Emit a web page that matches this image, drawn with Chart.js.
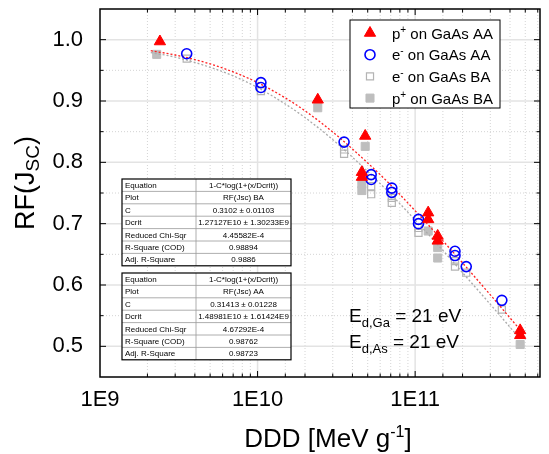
<!DOCTYPE html>
<html>
<head>
<meta charset="utf-8">
<title>RF(Jsc) vs DDD</title>
<style>body{margin:0;background:#fff}</style>
</head>
<body>
<canvas id="myChart" width="549" height="454"></canvas>
<script src="https://cdn.jsdelivr.net/npm/chart.js@4.4.0/dist/chart.umd.min.js"></script>
<script>
// measured points, DDD in MeV/g
var pAA_x = [2.40e9, 2.41e10, 4.82e10, 4.59e10, 4.59e10, 1.21e11, 1.21e11, 1.39e11, 1.39e11, 4.64e11, 4.64e11];
var pAA_y = [0.997, 0.902, 0.843, 0.784, 0.776, 0.718, 0.707, 0.680, 0.672, 0.526, 0.518];

var eAA_x = [3.55e9, 1.05e10, 1.05e10, 3.54e10, 5.26e10, 5.26e10, 7.11e10, 7.11e10, 1.05e11, 1.05e11, 1.79e11, 1.79e11, 2.11e11, 3.55e11];
var eAA_y = [0.977, 0.930, 0.922, 0.833, 0.780, 0.772, 0.758, 0.751, 0.707, 0.700, 0.655, 0.648, 0.630, 0.575];

var eBA_x = [3.55e9, 1.05e10, 3.54e10, 3.54e10, 5.26e10, 5.26e10, 7.11e10, 7.11e10, 1.05e11, 1.05e11, 1.79e11, 1.79e11, 2.11e11, 3.55e11];
var eBA_y = [0.969, 0.916, 0.821, 0.814, 0.761, 0.748, 0.742, 0.734, 0.693, 0.685, 0.639, 0.630, 0.620, 0.560];

var pBA_x = [2.29e9, 2.41e10, 4.82e10, 4.59e10, 4.59e10, 1.21e11, 1.39e11, 1.39e11, 4.64e11];
var pBA_y = [0.976, 0.889, 0.826, 0.765, 0.754, 0.688, 0.661, 0.644, 0.503];

// fit curves
var fitX  = [2.1e9, 3e9, 5e9, 7e9, 1e10, 1.5e10, 2e10, 3e10, 5e10, 7e10, 1e11, 1.5e11, 2e11, 3e11, 4.6e11];
var fitAA = [0.982, 0.975, 0.9605, 0.9474, 0.930, 0.905, 0.884, 0.8495, 0.799, 0.763, 0.721, 0.672, 0.636, 0.584, 0.528];
var fitBA = [0.979, 0.9715, 0.955, 0.941, 0.922, 0.895, 0.873, 0.837, 0.785, 0.748, 0.706, 0.6565, 0.620, 0.5685, 0.513];

var xTicks = [1e9, 1e10, 1e11];
var xTickLabels = ['1E9', '1E10', '1E11'];
var yTicks = [0.5, 0.6, 0.7, 0.8, 0.9, 1.0];
var yTickLabels = ['0.5', '0.6', '0.7', '0.8', '0.9', '1.0'];

var tableBA = [
  ['Equation', '1-C*log(1+(x/Dcrit))'],
  ['Plot', 'RF(Jsc) BA'],
  ['C', '0.3102 \u00b1 0.01103'],
  ['Dcrit', '1.27127E10 \u00b1 1.30233E9'],
  ['Reduced Chi-Sqr', '4.45582E-4'],
  ['R-Square (COD)', '0.98894'],
  ['Adj. R-Square', '0.9886']
];
var tableAA = [
  ['Equation', '1-C*log(1+(x/Dcrit))'],
  ['Plot', 'RF(Jsc) AA'],
  ['C', '0.31413 \u00b1 0.01228'],
  ['Dcrit', '1.48981E10 \u00b1 1.61424E9'],
  ['Reduced Chi-Sqr', '4.67292E-4'],
  ['R-Square (COD)', '0.98762'],
  ['Adj. R-Square', '0.98723']
];

var FONT = 'Arial, "Liberation Sans", sans-serif';

function pts(xs, ys) {
  return xs.map(function(v, i) { return {x: v, y: ys[i]}; });
}
function findLabel(v, ticks, labels) {
  for (var i = 0; i < ticks.length; i++) {
    if (Math.abs(v / ticks[i] - 1) < 1e-6) return labels[i];
  }
  return '';
}
// text pieces: [text, size, dy]
function runs(ctx, x, y, parts) {
  parts.forEach(function(p) {
    ctx.font = p[1] + 'px ' + FONT;
    ctx.fillText(p[0], x, y + p[2]);
    x += ctx.measureText(p[0]).width;
  });
  return x;
}
function runsWidth(ctx, parts) {
  var w = 0;
  parts.forEach(function(p) {
    ctx.font = p[1] + 'px ' + FONT;
    w += ctx.measureText(p[0]).width;
  });
  return w;
}
function line(ctx, x1, y1, x2, y2) {
  ctx.beginPath(); ctx.moveTo(x1, y1); ctx.lineTo(x2, y2); ctx.stroke();
}

function drawTable(ctx, left, top, rows) {
  var c1 = 74, c2 = 95, rh = 12.4, h = rows.length * rh;
  ctx.fillStyle = '#fff';
  ctx.fillRect(left, top, c1 + c2, h);
  ctx.strokeStyle = '#999'; ctx.lineWidth = 0.8;
  for (var i = 1; i < rows.length; i++) line(ctx, left, top + i * rh, left + c1 + c2, top + i * rh);
  line(ctx, left + c1, top, left + c1, top + h);
  ctx.strokeStyle = '#000'; ctx.lineWidth = 1.2;
  ctx.strokeRect(left, top, c1 + c2, h);
  ctx.fillStyle = '#000';
  ctx.font = '8px ' + FONT;
  ctx.textBaseline = 'middle';
  rows.forEach(function(r, i) {
    var cy = top + i * rh + rh / 2 + 0.5;
    ctx.textAlign = 'left';
    ctx.fillText(r[0], left + 3, cy);
    ctx.textAlign = 'center';
    ctx.fillText(r[1], left + c1 + c2 / 2, cy);
  });
  ctx.textAlign = 'left';
  ctx.textBaseline = 'alphabetic';
}

var decor = {
  id: 'decor',
  beforeDraw: function(chart) {
    var ctx = chart.ctx;
    ctx.save();
    ctx.fillStyle = '#fff';
    ctx.fillRect(0, 0, chart.width, chart.height);
    ctx.restore();
  },
  beforeDatasetsDraw: function(chart) {
    var ctx = chart.ctx, a = chart.chartArea, xs = chart.scales.x, ys = chart.scales.y;
    ctx.save();
    xs.ticks.forEach(function(t) {
      if (t.value <= xs.min || t.value >= xs.max) return;
      var px = xs.getPixelForValue(t.value);
      var lg = Math.log10(t.value);
      if (Math.abs(lg - Math.round(lg)) < 1e-9) {
        ctx.setLineDash([]); ctx.strokeStyle = '#e3e3e3'; ctx.lineWidth = 1.5;
      } else {
        ctx.setLineDash([1, 2]); ctx.strokeStyle = '#d4d4d4'; ctx.lineWidth = 1;
      }
      line(ctx, px, a.top, px, a.bottom);
    });
    ys.ticks.forEach(function(t) {
      if (t.value <= ys.min + 1e-9 || t.value >= ys.max - 1e-9) return;
      var py = ys.getPixelForValue(t.value);
      if (findLabel(t.value, yTicks, yTickLabels)) {
        ctx.setLineDash([]); ctx.strokeStyle = '#e3e3e3'; ctx.lineWidth = 1.5;
      } else {
        ctx.setLineDash([1, 2]); ctx.strokeStyle = '#d4d4d4'; ctx.lineWidth = 1;
      }
      line(ctx, a.left, py, a.right, py);
    });
    ctx.restore();
  },
  afterDatasetsDraw: function(chart) {
    var ctx = chart.ctx, a = chart.chartArea, xs = chart.scales.x, ys = chart.scales.y;
    ctx.save();
    ctx.strokeStyle = '#000'; ctx.lineWidth = 1;
    xs.ticks.forEach(function(t) {
      if (t.value <= xs.min || t.value >= xs.max) return;
      var px = xs.getPixelForValue(t.value);
      var lg = Math.log10(t.value);
      var len = Math.abs(lg - Math.round(lg)) < 1e-9 ? 6 : 3.5;
      line(ctx, px, a.bottom, px, a.bottom - len);
      line(ctx, px, a.top, px, a.top + len);
    });
    ys.ticks.forEach(function(t) {
      if (t.value <= ys.min + 1e-9 || t.value >= ys.max - 1e-9) return;
      var py = ys.getPixelForValue(t.value);
      var len = findLabel(t.value, yTicks, yTickLabels) ? 6 : 3.5;
      line(ctx, a.left, py, a.left + len, py);
      line(ctx, a.right, py, a.right - len, py);
    });
    ctx.lineWidth = 1.5;
    ctx.strokeRect(a.left, a.top, a.right - a.left, a.bottom - a.top);
    ctx.restore();
  },
  afterDraw: function(chart) {
    var ctx = chart.ctx;
    ctx.save();
    drawTable(ctx, 122, 179, tableBA);
    drawTable(ctx, 122, 273, tableAA);

    // legend
    ctx.fillStyle = '#fff';
    ctx.fillRect(350, 20, 150, 88);
    ctx.strokeStyle = '#000'; ctx.lineWidth = 1;
    ctx.strokeRect(350, 20, 150, 88);
    var ds = chart.data.datasets;
    var items = [
      [ds[0], [['p', 15, 0], ['+', 10, -6], [' on GaAs AA', 15, 0]]],
      [ds[1], [['e', 15, 0], ['-', 10, -6], [' on GaAs AA', 15, 0]]],
      [ds[4], [['e', 15, 0], ['-', 10, -6], [' on GaAs BA', 15, 0]]],
      [ds[5], [['p', 15, 0], ['+', 10, -6], [' on GaAs BA', 15, 0]]]
    ];
    items.forEach(function(it, i) {
      var cy = 33 + i * 21.7, d = it[0];
      ctx.fillStyle = d.backgroundColor;
      ctx.strokeStyle = d.borderColor;
      ctx.lineWidth = d.borderWidth;
      Chart.helpers.drawPoint(ctx, {pointStyle: d.pointStyle, radius: d.pointRadius, rotation: 0, borderWidth: d.borderWidth}, 370, cy);
      ctx.fillStyle = '#000';
      runs(ctx, 392, cy + 5.5, it[1]);
    });

    // displacement energies
    ctx.fillStyle = '#000';
    runs(ctx, 349, 322, [['E', 19, 0], ['d,Ga', 13, 5], [' = 21 eV', 19, 0]]);
    runs(ctx, 349, 348, [['E', 19, 0], ['d,As', 13, 5], [' = 21 eV', 19, 0]]);

    // axis titles
    var xt = [['DDD [MeV g', 26, 0], ['-1', 16, -10], [']', 26, 0]];
    runs(ctx, 328 - runsWidth(ctx, xt) / 2, 447, xt);
    var yt = [['RF(J', 27, 0], ['SC', 19, 5], [')', 27, 0]];
    ctx.translate(34, 183);
    ctx.rotate(-Math.PI / 2);
    runs(ctx, -runsWidth(ctx, yt) / 2, 0, yt);
    ctx.restore();
  }
};

var ctx = document.getElementById('myChart');
var myChart = new Chart(ctx, {
  type: 'scatter',
  data: {
    datasets: [
      {label: 'p+ on GaAs AA', data: pts(pAA_x, pAA_y), pointStyle: 'triangle', pointRadius: 6.5,
       backgroundColor: '#ff0000', borderColor: '#ff0000', borderWidth: 1},
      {label: 'e- on GaAs AA', data: pts(eAA_x, eAA_y), pointStyle: 'circle', pointRadius: 5,
       backgroundColor: 'rgba(0,0,0,0)', borderColor: '#0000ff', borderWidth: 1.6},
      {label: 'fit AA', data: pts(fitX, fitAA), showLine: true, pointRadius: 0, borderColor: '#ff2020',
       borderWidth: 1.3, borderDash: [2, 2], cubicInterpolationMode: 'monotone'},
      {label: 'fit BA', data: pts(fitX, fitBA), showLine: true, pointRadius: 0, borderColor: '#aaaaaa',
       borderWidth: 1.3, borderDash: [2, 2], cubicInterpolationMode: 'monotone'},
      {label: 'e- on GaAs BA', data: pts(eBA_x, eBA_y), pointStyle: 'rect', pointRadius: 5,
       backgroundColor: 'rgba(0,0,0,0)', borderColor: '#b4b4b4', borderWidth: 1.2},
      {label: 'p+ on GaAs BA', data: pts(pBA_x, pBA_y), pointStyle: 'rect', pointRadius: 5.7,
       backgroundColor: '#bebebe', borderColor: '#bebebe', borderWidth: 1}
    ]
  },
  options: {
    responsive: false,
    animation: false,
    layout: {padding: {top: 9, right: 9, left: 0, bottom: 0}},
    plugins: {legend: {display: false}, tooltip: {enabled: false}},
    scales: {
      x: {
        type: 'logarithmic', min: 1e9, max: 6.2e11,
        grid: {display: false}, border: {display: false},
        ticks: {
          autoSkip: false, maxRotation: 0, padding: 2, color: '#000',
          font: {size: 22, family: FONT},
          callback: function(v) { return findLabel(v, xTicks, xTickLabels); }
        },
        afterFit: function(s) { s.height = 77; s.paddingLeft = 0; s.paddingRight = 0; }
      },
      y: {
        type: 'linear', min: 0.45, max: 1.05,
        grid: {display: false}, border: {display: false},
        ticks: {
          stepSize: 0.05, padding: 9, color: '#000',
          font: {size: 22, family: FONT},
          callback: function(v) { return findLabel(v, yTicks, yTickLabels); }
        },
        afterFit: function(s) { s.width = 100; s.paddingTop = 0; s.paddingBottom = 0; }
      }
    }
  },
  plugins: [decor]
});
</script>
</body>
</html>
